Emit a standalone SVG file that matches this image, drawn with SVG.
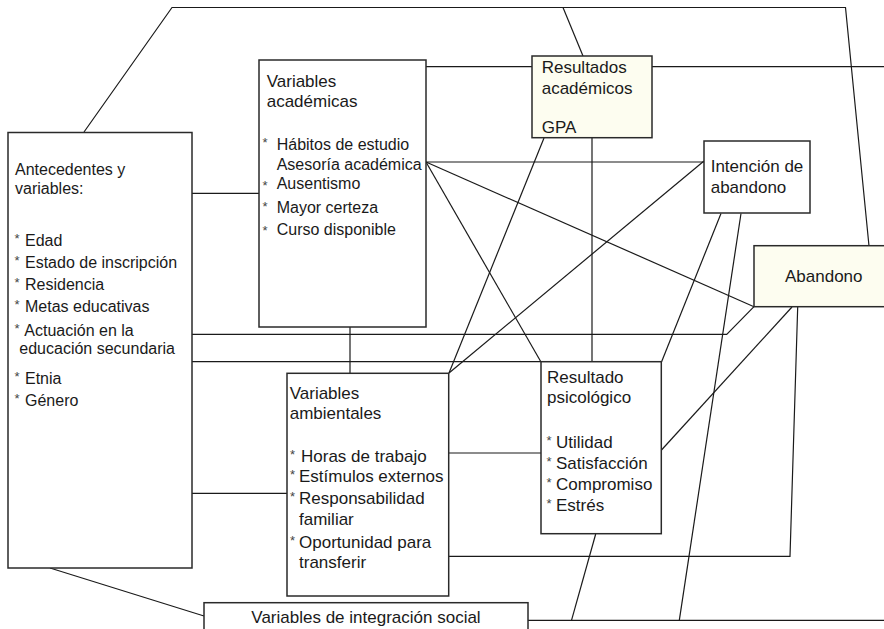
<svg xmlns="http://www.w3.org/2000/svg" width="884" height="629" viewBox="0 0 884 629">
<style>
.box{fill:#ffffff;stroke:#2a2a2a;stroke-width:1.5}
.hl{fill:#fdfdf0;stroke:#2a2a2a;stroke-width:1.5}
.ln{fill:none;stroke:#1a1a1a;stroke-width:1.2}
text{font-family:"Liberation Sans",Arial,Helvetica,sans-serif;font-size:16px;fill:#1a1a1a}
.b{font-size:17px}
.a{font-size:13px;fill:#444}
</style>
<rect width="884" height="629" fill="#ffffff"/>
<g id="connectors">
<polyline class="ln" points="84,132 172,7.5 845.5,7.5 869,246"/>
<line class="ln" x1="563" y1="7.5" x2="583" y2="56"/>
<line class="ln" x1="426" y1="66.7" x2="532" y2="66.7"/>
<line class="ln" x1="652" y1="66.7" x2="884" y2="66.7"/>
<line class="ln" x1="192" y1="193.3" x2="259" y2="193.3"/>
<line class="ln" x1="426" y1="162" x2="704" y2="162"/>
<line class="ln" x1="426" y1="162" x2="541" y2="362"/>
<line class="ln" x1="426" y1="162" x2="754" y2="306.7"/>
<line class="ln" x1="704" y1="161" x2="449" y2="373"/>
<line class="ln" x1="544" y1="138" x2="449" y2="373"/>
<line class="ln" x1="592" y1="138" x2="592" y2="362"/>
<polyline class="ln" points="192,334.3 726.7,334.3 754,306.7"/>
<line class="ln" x1="192" y1="361.7" x2="541" y2="361.7"/>
<line class="ln" x1="350" y1="327" x2="350" y2="373"/>
<line class="ln" x1="721" y1="213.5" x2="661.5" y2="362"/>
<line class="ln" x1="192" y1="493.3" x2="287" y2="493.3"/>
<line class="ln" x1="449" y1="453" x2="541" y2="453"/>
<line class="ln" x1="661.5" y1="450" x2="792" y2="307"/>
<polyline class="ln" points="449,556.3 790,556.3 797.7,307"/>
<line class="ln" x1="50" y1="568" x2="204" y2="616"/>
<line class="ln" x1="528" y1="620.3" x2="884" y2="620.3"/>
<line class="ln" x1="571.5" y1="620.3" x2="595.7" y2="534"/>
<line class="ln" x1="679.3" y1="620.3" x2="741" y2="213.5"/>
</g>
<g id="antecedentes">
<rect class="box" x="8" y="132.5" width="184" height="435.5"/>
<text x="15" y="175">Antecedentes y</text>
<text x="15" y="194">variables:</text>
<text class="a" x="14.5" y="243">*</text><text x="25" y="246">Edad</text>
<text class="a" x="14.5" y="265">*</text><text x="25" y="268">Estado de inscripción</text>
<text class="a" x="14.5" y="287">*</text><text x="25" y="290">Residencia</text>
<text class="a" x="14.5" y="309">*</text><text x="25" y="312.3">Metas educativas</text>
<text class="a" x="14.5" y="333">*</text><text x="24.3" y="336">Actuación en la</text>
<text x="19.3" y="354.3">educación secundaria</text>
<text class="a" x="14.5" y="381">*</text><text x="25" y="383.7">Etnia</text>
<text class="a" x="14.5" y="403">*</text><text x="25" y="405.7">Género</text>
</g>
<g id="variables-academicas">
<rect class="box" x="259" y="60" width="167" height="267"/>
<text class="b" x="266.7" y="86.7">Variables</text>
<text class="b" x="266.7" y="106.7">académicas</text>
<text class="a" x="262.5" y="147">*</text><text x="276.7" y="150">Hábitos de estudio</text>
<text x="276.7" y="170">Asesoría académica</text>
<text class="a" x="262.5" y="190">*</text><text x="276.7" y="189">Ausentismo</text>
<text class="a" x="262.5" y="211">*</text><text x="276.7" y="213.3">Mayor certeza</text>
<text class="a" x="262.5" y="235">*</text><text x="276.7" y="235.3">Curso disponible</text>
</g>
<g id="resultados-academicos">
<rect class="hl" x="532" y="56" width="120" height="81.7"/>
<text class="b" x="541.7" y="72.7">Resultados</text>
<text class="b" x="541.7" y="94">académicos</text>
<text class="b" x="541.7" y="133.3">GPA</text>
</g>
<g id="intencion-abandono">
<rect class="box" x="704" y="141" width="106" height="72"/>
<text class="b" x="710.7" y="172">Intención de</text>
<text class="b" x="710.7" y="192.7">abandono</text>
</g>
<g id="abandono">
<rect class="hl" x="754" y="245.7" width="140" height="61"/>
<text class="b" x="785" y="281.7">Abandono</text>
</g>
<g id="variables-ambientales">
<rect class="box" x="287" y="373.3" width="161.7" height="222.7"/>
<text class="b" x="289.7" y="399">Variables</text>
<text class="b" x="289.7" y="419.3">ambientales</text>
<text class="a" x="290" y="459">*</text><text class="b" x="301" y="461.7">Horas de trabajo</text>
<text class="a" x="290" y="479">*</text><text class="b" x="299" y="482">Estímulos externos</text>
<text class="a" x="290" y="501">*</text><text class="b" x="299" y="504">Responsabilidad</text>
<text class="b" x="299" y="525">familiar</text>
<text class="a" x="290" y="545">*</text><text class="b" x="299" y="547.7">Oportunidad para</text>
<text class="b" x="299" y="568.3">transferir</text>
</g>
<g id="resultado-psicologico">
<rect class="box" x="541" y="361.7" width="120.3" height="172"/>
<text class="b" x="547" y="383.3">Resultado</text>
<text class="b" x="547" y="403.3">psicológico</text>
<text class="a" x="546.5" y="445">*</text><text class="b" x="556" y="447.7">Utilidad</text>
<text class="a" x="546.5" y="466">*</text><text class="b" x="556" y="468.7">Satisfacción</text>
<text class="a" x="546.5" y="487">*</text><text class="b" x="556" y="490">Compromiso</text>
<text class="a" x="546.5" y="508">*</text><text class="b" x="556" y="511">Estrés</text>
</g>
<g id="integracion-social">
<rect class="box" x="204" y="602.7" width="324" height="40"/>
<text class="b" x="366" y="623.3" text-anchor="middle">Variables de integración social</text>
</g>
</svg>
